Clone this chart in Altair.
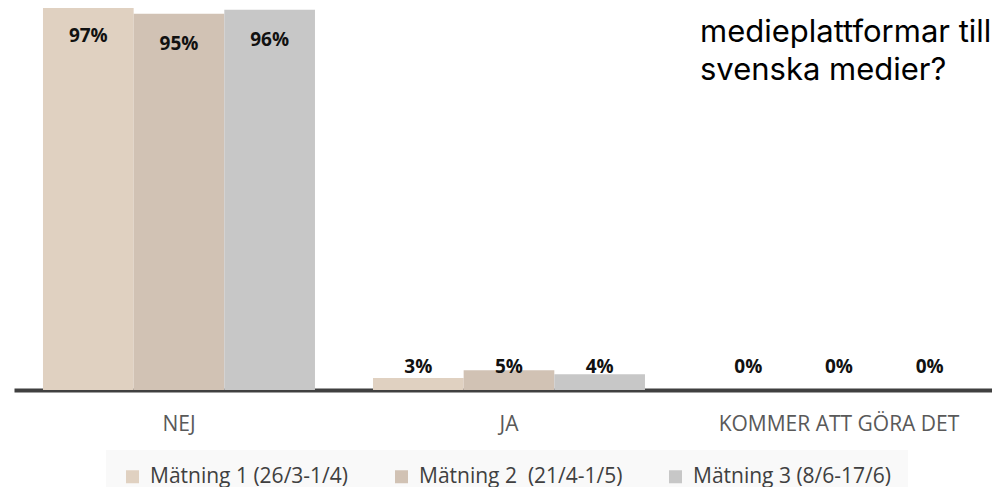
import altair as alt
import pandas as pd

categories = ["NEJ", "JA", "KOMMER ATT GÖRA DET"]
series = ["Mätning 1 (26/3-1/4)", "Mätning 2 \u00a0(21/4-1/5)", "Mätning 3 (8/6-17/6)"]
m1 = [97, 3, 0]
m2 = [95, 5, 0]
m3 = [96, 4, 0]
colors = ["#E0D1C1", "#D1C2B4", "#C7C7C7"]
title_lines = ["från internationella", "medieplattformar till", "svenska medier?"]

rows = []
for s, vals in zip(series, [m1, m2, m3]):
    for c, v in zip(categories, vals):
        rows.append({"kategori": c, "serie": s, "värde": v, "etikett": f"{v}%"})
df = pd.DataFrame(rows)

base = alt.Chart(df)

x_enc = alt.X("kategori:N", sort=categories,
              scale=alt.Scale(paddingInner=0.1758, paddingOuter=0.0697, align=0.63),
              axis=alt.Axis(title=None, ticks=False, domainColor="#404040", domainWidth=4,
                            labelFont="Open Sans", labelFontSize=21, labelColor="#595959",
                            labelPadding=23, labelAngle=0, labelLimit=0, grid=False))
xo_enc = alt.XOffset("serie:N", sort=series, scale=alt.Scale(paddingInner=0, paddingOuter=0))
y_scale = alt.Scale(domain=[0, 96.46], nice=False, zero=True)

bars = base.mark_bar().encode(
    x=x_enc,
    xOffset=xo_enc,
    y=alt.Y("värde:Q", scale=y_scale, axis=None),
    color=alt.Color("serie:N", sort=series,
                    scale=alt.Scale(domain=series, range=colors),
                    legend=alt.Legend(title=None, orient="none", legendX=92, legendY=442,
                                      direction="horizontal", columns=3, columnPadding=42,
                                      symbolType="square", symbolSize=169, symbolStrokeWidth=0,
                                      labelFont="Open Sans", labelFontSize=21, labelColor="#404040",
                                      labelOffset=7, labelLimit=0, fillColor="#F9F9F9", padding=16)),
)

big = base.transform_filter("datum['värde'] > 50").mark_text(
    font="Open Sans", fontSize=19, fontWeight="bold", color="#111111", baseline="middle", dy=30
).encode(x=alt.X("kategori:N", sort=categories), xOffset=alt.XOffset("serie:N", sort=series),
         y=alt.Y("värde:Q", scale=y_scale), text="etikett:N")

small = base.transform_filter("datum['värde'] <= 50").mark_text(
    font="Open Sans", fontSize=19, fontWeight="bold", color="#111111", baseline="middle"
).encode(x=alt.X("kategori:N", sort=categories), xOffset=alt.XOffset("serie:N", sort=series),
         y=alt.datum(5.85), text="etikett:N")

layers = [bars, big, small]
for i, line in enumerate(title_lines):
    layers.append(
        alt.Chart(pd.DataFrame({"t": [line]})).mark_text(
            font="Inter", fontSize=31, color="#000000", align="left", baseline="alphabetic"
        ).encode(x=alt.value(686), y=alt.value(-4 + 38 * i), text="t:N")
    )

chart = alt.layer(*layers).properties(
    width=978, height=382,
    autosize=alt.AutoSizeParams(type="none"),
    padding={"left": 6, "top": 0, "right": 0, "bottom": 97},
).configure_view(stroke=None)

chart.save("out.html", embed_options={"renderer": "svg", "actions": False})
